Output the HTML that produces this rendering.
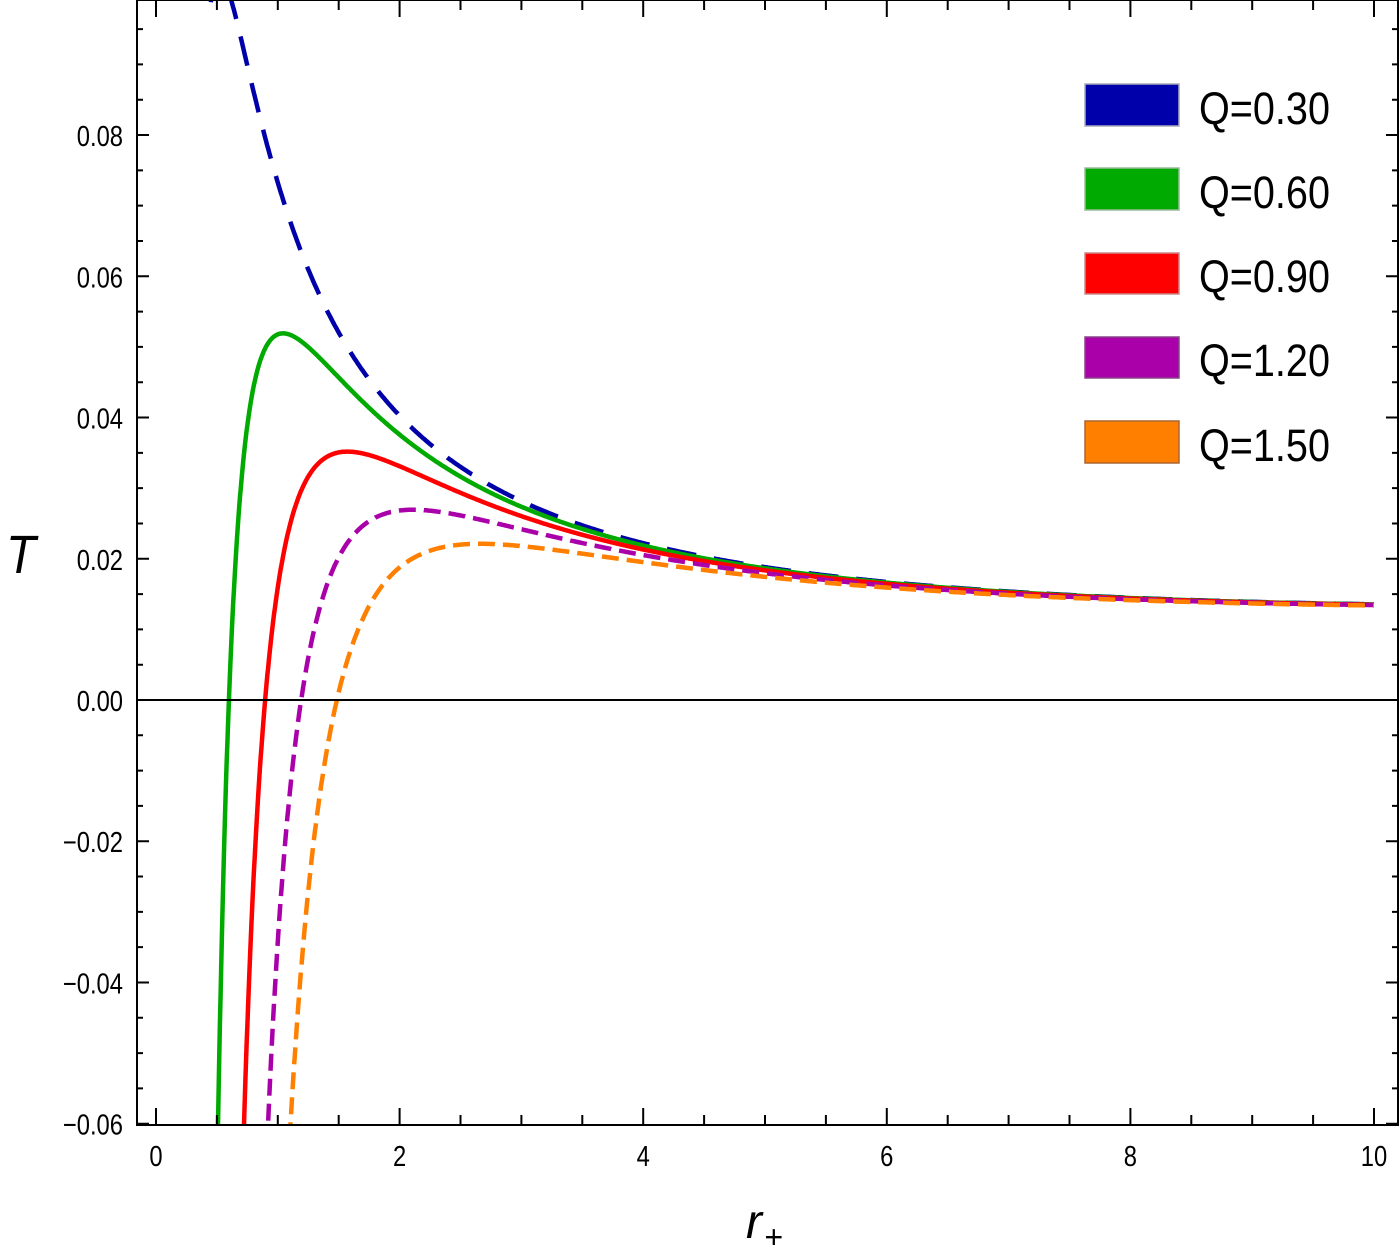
<!DOCTYPE html>
<html><head><meta charset="utf-8"><style>
body{margin:0;background:#fff;}
svg{display:block;}
text{font-family:"Liberation Sans",sans-serif;}
</style></head><body>
<svg id="s" width="1400" height="1250" xmlns="http://www.w3.org/2000/svg">
<defs><clipPath id="c"><rect x="137" y="0" width="1261" height="1125"/></clipPath></defs>
<g id="curves" clip-path="url(#c)"></g>
<g id="axes" stroke="#000" fill="none" stroke-width="2"></g>
<g id="lab" font-size="29" fill="#000"></g>
<text x="0" y="0" font-size="54" font-style="italic" transform="translate(6,573) scale(0.9,1)">T</text>
<text x="746" y="1238" font-size="48" font-style="italic">r</text>
<text x="764" y="1248" font-size="32" font-style="italic">+</text>
<g font-size="45" fill="#000">
<rect x="1085" y="84" width="94" height="42" fill="#0000aa" stroke="#aab" stroke-width="1.5"/>
<rect x="1085" y="168" width="94" height="42" fill="#00aa00" stroke="#9b9" stroke-width="1.5"/>
<rect x="1085" y="253" width="94" height="41" fill="#ff0000" stroke="#c88" stroke-width="1.5"/>
<rect x="1085" y="337" width="94" height="41" fill="#aa00aa" stroke="#848" stroke-width="1.5"/>
<rect x="1085" y="421" width="94" height="42" fill="#ff8000" stroke="#a63" stroke-width="1.5"/>
<g transform="translate(1199,0) scale(0.88,1)">
<text x="0" y="124">Q=0.30</text>
<text x="0" y="208">Q=0.60</text>
<text x="0" y="292">Q=0.90</text>
<text x="0" y="376">Q=1.20</text>
<text x="0" y="461">Q=1.50</text>
</g></g>
</svg>
<script>
const X=r=>156+r*121.8, Y=t=>700-t*7062;
const ns="http://www.w3.org/2000/svg";
function T(r,Q){return 0.0796/r*(1-Q*Q/(r*r))+0.0003+0.00053*r;}
const series=[[0.3,"#0000aa","30,18",0.45],[0.6,"#00aa00","",0.4],[0.9,"#ff0000","",0.6],[1.2,"#aa00aa","17,8",0.8],[1.5,"#ff8000","17,8",1.0]];
const cg=document.getElementById("curves");
for(const [Q,col,da,r0] of series){
 let d="",first=true;
 for(let r=r0;r<=10.001;r+=0.005){
  let t=T(r,Q);let y=Y(t);
  if(y>1200||y<-100)continue;
  d+=(first?"M":"L")+X(r).toFixed(1)+","+y.toFixed(1);first=false;
 }
 const p=document.createElementNS(ns,"path");
 p.setAttribute("d",d);p.setAttribute("fill","none");p.setAttribute("stroke",col);
 p.setAttribute("stroke-width","4.5");if(da)p.setAttribute("stroke-dasharray",da);
 cg.appendChild(p);
}
const ax=document.getElementById("axes");let a="";
a+="M137,0V1125H1398V0M137,0H1398";
a+="M137,700H1398";
for(let i=0;i<=20;i++){let x=X(i*0.5);let L=i%4==0?17:10;a+=`M${x},1125V${1125-L}M${x},0V${L}`;}
for(let i=-12;i<=20;i++){let y=Y(i*0.005);if(y<0||y>1125)continue;let L=i%4==0?12:6;a+=`M137,${y}H${137+L}M1398,${y}H${1398-L}`;}
const pp=document.createElementNS(ns,"path");pp.setAttribute("d",a);ax.appendChild(pp);
const lab=document.getElementById("lab");
const yl=[[0.08,"0.08"],[0.06,"0.06"],[0.04,"0.04"],[0.02,"0.02"],[0,"0.00"],[-0.02,"\u22120.02"],[-0.04,"\u22120.04"],[-0.06,"\u22120.06"]];
for(const [v,s] of yl){const t=document.createElementNS(ns,"text");t.setAttribute("transform",`translate(123,${Y(v)+11}) scale(0.82,1)`);t.setAttribute("text-anchor","end");t.textContent=s;lab.appendChild(t);}
for(let i=0;i<=10;i+=2){const t=document.createElementNS(ns,"text");t.setAttribute("transform",`translate(${X(i)},1166) scale(0.82,1)`);t.setAttribute("text-anchor","middle");t.textContent=i;lab.appendChild(t);}
</script>
</body></html>
